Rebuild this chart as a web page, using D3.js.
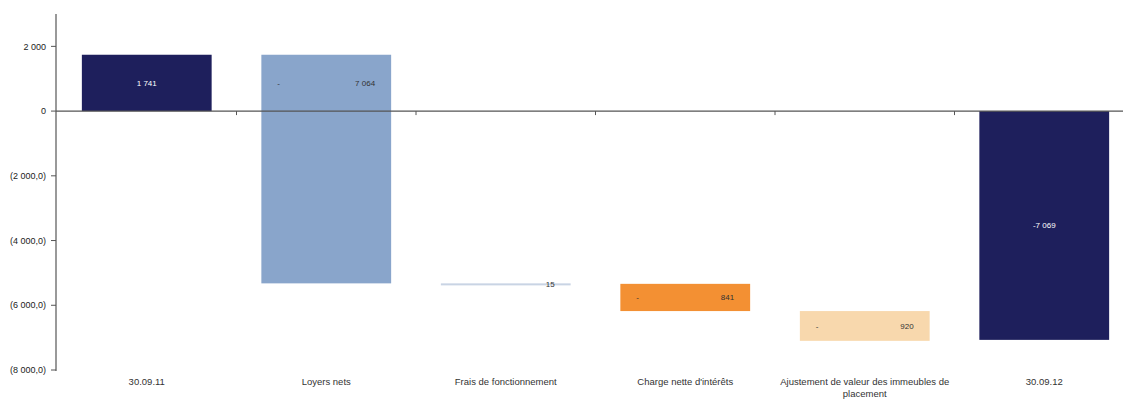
<!DOCTYPE html>
<html>
<head>
<meta charset="utf-8">
<script src="https://cdn.jsdelivr.net/npm/d3@7"></script>
<style>
  html, body { margin: 0; padding: 0; background: #fff; }
  svg { display: block; font-family: "Liberation Sans", Arial, sans-serif; }
</style>
</head>
<body>
<svg id="chart" width="1123" height="399"></svg>
<script>
// Waterfall: opening balance, movements, closing balance
const categories = [
  ["30.09.11"],
  ["Loyers nets"],
  ["Frais de fonctionnement"],
  ["Charge nette d'intérêts"],
  ["Ajustement de valeur des immeubles de", "placement"],
  ["30.09.12"]
];
const openingValue = 1741;
const movements = [-7064, -15, -841, -920];
const closingValue = -7069;
const barColors = ["#1e1f5c", "#89a5cb", "#c9d4e4", "#f39033", "#f8d8ad", "#1e1f5c"];
const yTickValues = [2000, 0, -2000, -4000, -6000, -8000];
const yTickLabels = ["2 000", "0", "(2 000,0)", "(4 000,0)", "(6 000,0)", "(8 000,0)"];

// Build the floating bars
const bars = [];
bars.push({ i: 0, y0: 0, y1: openingValue, value: openingValue, total: true });
let running = openingValue;
movements.forEach((m, k) => {
  bars.push({ i: k + 1, y0: running, y1: running + m, value: m, total: false });
  running += m;
});
bars.push({ i: 5, y0: 0, y1: closingValue, value: closingValue, total: true });

const svg = d3.select("#chart");
const axisX = 56;

const x = d3.scaleBand()
  .domain(d3.range(categories.length))
  .range([axisX + 1, 1134])
  .paddingInner(0.277)
  .paddingOuter(0.1385);

const y = d3.scaleLinear().domain([-8000, 3000]).range([370, 14]);

const fmt = v => d3.format(",")(v).replace(/,/g, " ");

// Bars
svg.append("g").selectAll("rect").data(bars).join("rect")
  .attr("x", d => x(d.i))
  .attr("width", x.bandwidth())
  .attr("y", d => y(Math.max(d.y0, d.y1)))
  .attr("height", d => Math.max(2, Math.abs(y(d.y0) - y(d.y1))))
  .attr("fill", (d, k) => barColors[k]);

// Y axis
const yAxis = svg.append("g").attr("transform", `translate(${axisX},0)`);
yAxis.append("line")
  .attr("x1", 0).attr("x2", 0)
  .attr("y1", y(3000)).attr("y2", y(-8000) + 1)
  .attr("stroke", "#555").attr("stroke-width", 1.2);
yAxis.selectAll("line.tick").data(yTickValues).join("line")
  .attr("class", "tick")
  .attr("x1", -5).attr("x2", 0)
  .attr("y1", d => y(d)).attr("y2", d => y(d))
  .attr("stroke", "#555");
yAxis.selectAll("text").data(yTickValues).join("text")
  .attr("x", -10)
  .attr("y", d => y(d))
  .attr("dy", "0.35em")
  .attr("text-anchor", "end")
  .attr("font-size", 9)
  .attr("fill", "#222")
  .text((d, k) => yTickLabels[k]);

// Zero line with category separators
const step = x.step();
svg.append("line")
  .attr("x1", axisX).attr("x2", 1123)
  .attr("y1", y(0)).attr("y2", y(0))
  .attr("stroke", "#555").attr("stroke-width", 1.2);
svg.append("g").selectAll("line").data(d3.range(1, categories.length)).join("line")
  .attr("x1", k => axisX + 1 + k * step).attr("x2", k => axisX + 1 + k * step)
  .attr("y1", y(0)).attr("y2", y(0) + 4)
  .attr("stroke", "#555");

// Value labels
const lbl = svg.append("g").attr("font-size", 8);
bars.forEach(d => {
  const left = x(d.i), right = left + x.bandwidth();
  if (d.total) {
    const cy = (y(d.y0) + y(d.y1)) / 2;
    lbl.append("text")
      .attr("x", left + x.bandwidth() / 2).attr("y", cy).attr("dy", "0.35em")
      .attr("text-anchor", "middle").attr("fill", "#fff")
      .text(d.value < 0 ? "-" + fmt(-d.value) : fmt(d.value));
  } else {
    // Label sits in the part of the bar above zero when the bar crosses it
    const top = Math.max(d.y0, d.y1), bot = Math.min(d.y0, d.y1);
    const cy = (top > 0 && bot < 0) ? (y(top) + y(0)) / 2 : (y(top) + y(bot)) / 2;
    const small = Math.abs(d.value) < 100;
    lbl.append("text")
      .attr("x", right - 16).attr("y", cy + (small ? 1 : 0)).attr("dy", "0.35em")
      .attr("text-anchor", "end").attr("fill", "#333")
      .text(fmt(Math.abs(d.value)));
    if (!small) {
      lbl.append("text")
        .attr("x", left + 16).attr("y", cy).attr("dy", "0.35em")
        .attr("fill", "#333")
        .text("-");
    }
  }
});

// Category labels
const cat = svg.append("g").attr("font-size", 9.5).attr("fill", "#333").attr("text-anchor", "middle");
categories.forEach((lines, k) => {
  const t = cat.append("text")
    .attr("x", x(k) + x.bandwidth() / 2)
    .attr("y", 385);
  lines.forEach((s, j) => {
    t.append("tspan")
      .attr("x", x(k) + x.bandwidth() / 2)
      .attr("dy", j === 0 ? 0 : 11.5)
      .text(s);
  });
});
</script>
</body>
</html>
